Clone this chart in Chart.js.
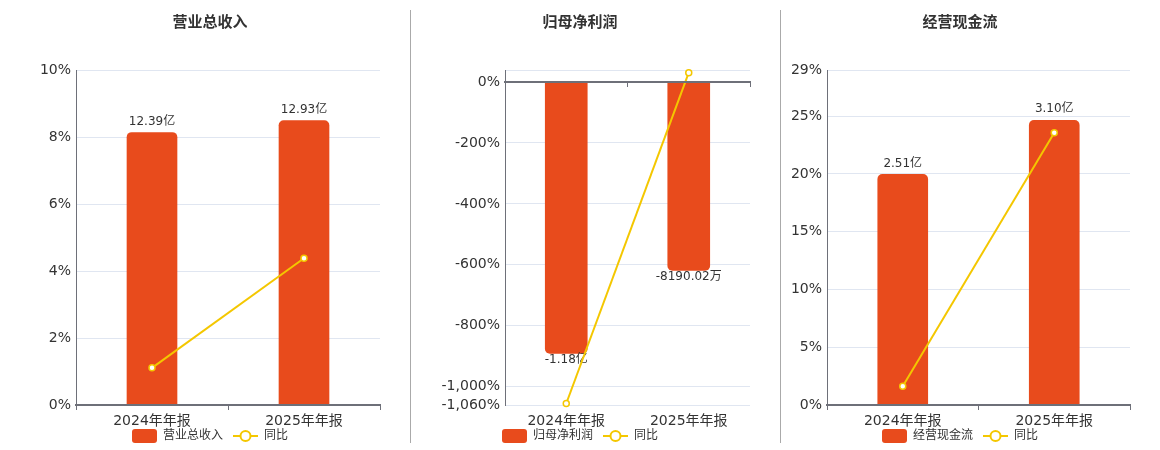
<!DOCTYPE html>
<html>
<head>
<meta charset="utf-8">
<script src="https://cdn.jsdelivr.net/npm/chart.js@4.4.1/dist/chart.umd.min.js"></script>
<style>
  html, body { margin: 0; padding: 0; background: #fff; }
  #wrap { position: relative; width: 1160px; height: 450px; overflow: hidden; }
  .panel { position: absolute; top: 0; height: 450px; }
  .sep { position: absolute; top: 10px; width: 1px; height: 433px; background: #aaa; }
</style>
</head>
<body>
<div id="wrap">
  <div class="sep" style="left:410px"></div>
  <div class="sep" style="left:780px"></div>
  <div class="panel" style="left:40px;width:360px"><canvas id="c1" width="360" height="450"></canvas></div>
  <div class="panel" style="left:410px;width:350px"><canvas id="c2" width="350" height="450"></canvas></div>
  <div class="panel" style="left:790px;width:360px"><canvas id="c3" width="360" height="450"></canvas></div>
</div>
<script>
const categories = ['2024年年报', '2025年年报'];
const yoyName = '同比';

// 营业总收入 (bars in 亿, line in %)
const revenueValues = [12.39, 12.93];
const revenueLabels = ['12.39亿', '12.93亿'];
const revenueYoY = [1.11, 4.38];
const revenueTicks = [0, 2, 4, 6, 8, 10];

// 归母净利润
const profitValues = [-1.18, -0.819];
const profitLabels = ['-1.18亿', '-8190.02万'];
const profitYoY = [-1055, 30.6];
const profitTicks = [-1060, -1000, -800, -600, -400, -200, 0];

// 经营现金流
const cashValues = [2.51, 3.10];
const cashLabels = ['2.51亿', '3.10亿'];
const cashYoY = [1.62, 23.57];
const cashTicks = [0, 5, 10, 15, 20, 25, 29];

const BAR_COLOR = '#E84B1C';
const LINE_COLOR = '#F4C700';
const AXIS_COLOR = '#6E7079';
const GRID_COLOR = '#E0E6F1';
const FONT = '"DejaVu Sans", "Noto Sans CJK SC", sans-serif';

Chart.defaults.font.family = FONT;
Chart.defaults.color = '#333';

// legend icons
function barIcon() {
  const c = document.createElement('canvas');
  c.width = 25; c.height = 14;
  const g = c.getContext('2d');
  g.fillStyle = BAR_COLOR;
  g.beginPath();
  g.roundRect(0, 0, 25, 14, 3);
  g.fill();
  return c;
}
function lineIcon() {
  const c = document.createElement('canvas');
  c.width = 25; c.height = 14;
  const g = c.getContext('2d');
  g.strokeStyle = LINE_COLOR;
  g.lineWidth = 2;
  g.beginPath(); g.moveTo(0, 7); g.lineTo(25, 7); g.stroke();
  g.beginPath(); g.arc(12.5, 7, 5, 0, Math.PI * 2);
  g.fillStyle = '#fff'; g.fill(); g.stroke();
  return c;
}

const barLabelPlugin = {
  id: 'barLabels',
  afterDatasetDraw(chart, args, opts) {
    if (args.index !== 0) return;
    const ctx = chart.ctx;
    ctx.save();
    ctx.font = '12px ' + FONT;
    ctx.fillStyle = '#333';
    ctx.textAlign = 'center';
    ctx.textBaseline = 'middle';
    args.meta.data.forEach((bar, i) => {
      const neg = bar.y > bar.base;
      ctx.fillText(opts.labels[i], bar.x, neg ? bar.y + 6 : bar.y - 11);
    });
    ctx.restore();
  }
};

function fmtPct(v) {
  return v.toLocaleString('en-US') + '%';
}

function makeChart(id, p) {
  const ticks = p.ticks.slice();
  const scales = {
    x: {
      type: 'category',
      position: 'bottom',
      offset: true,
      grid: { offset: true, drawOnChartArea: false, drawTicks: true, tickLength: 5,
              color: p.zeroTop ? 'transparent' : AXIS_COLOR },
      border: { display: !p.zeroTop, color: AXIS_COLOR, width: 2, z: 1 },
      // mirrored so the labels are not clipped to the (short) axis box;
      // negative padding pushes them back below the axis
      ticks: { mirror: true, padding: -25, font: { size: 14 }, color: '#333', maxRotation: 0 },
      afterFit(s) { s.height = 15; }
    },
    y: {
      position: 'left',
      min: p.pctMin,
      max: p.pctMax,
      grid: { color: GRID_COLOR, drawTicks: false },
      border: { display: true, color: AXIS_COLOR, width: 1, z: 1 },
      ticks: {
        padding: 5,
        autoSkip: false,
        font: { size: 14 },
        color: '#333',
        callback: v => (ticks.includes(v) ? fmtPct(v) : '')
      },
      afterBuildTicks(s) {
        const vals = ticks.slice();
        if (!vals.includes(p.pctMax)) vals.push(p.pctMax);
        vals.sort((a, b) => a - b);
        s.ticks = vals.map(v => ({ value: v }));
      },
      afterFit(s) { s.width = p.axisWidth; }
    },
    yb: {
      display: false,
      min: p.barMin,
      max: p.barMax
    }
  };
  if (p.zeroTop) {
    scales.x0 = {
      type: 'category',
      position: { y: 0 },
      offset: true,
      grid: { offset: true, drawOnChartArea: false, drawTicks: true, tickLength: 4, color: AXIS_COLOR },
      border: { display: true, color: AXIS_COLOR, width: 2, z: 1 },
      ticks: { display: false }
    };
  }

  new Chart(document.getElementById(id), {
    type: 'bar',
    data: {
      labels: categories,
      datasets: [
        {
          type: 'bar',
          label: p.title,
          data: p.values,
          yAxisID: 'yb',
          backgroundColor: BAR_COLOR,
          borderRadius: 5,
          borderSkipped: 'start',
          barThickness: p.barWidth,
          order: 2
        },
        {
          type: 'line',
          label: yoyName,
          data: p.yoy,
          yAxisID: 'y',
          borderColor: LINE_COLOR,
          borderWidth: 2,
          pointRadius: 3,
          pointBorderWidth: 1.5,
          pointBackgroundColor: '#fff',
          pointBorderColor: LINE_COLOR,
          tension: 0,
          clip: false,
          order: 1
        }
      ]
    },
    options: {
      responsive: false,
      animation: false,
      layout: { padding: { left: 0, right: p.padRight, top: 0, bottom: -2 } },
      scales: scales,
      plugins: {
        tooltip: { enabled: false },
        title: {
          display: true,
          text: p.title,
          color: '#333',
          font: { size: 15, weight: 'bold' },
          padding: { top: 14, bottom: 38 }
        },
        legend: {
          position: 'bottom',
          labels: {
            usePointStyle: true,
            pointStyleWidth: 25,
            padding: 10,
            font: { size: 12 },
            color: '#333',
            generateLabels: () => [
              { text: p.title, pointStyle: barIcon(), fillStyle: BAR_COLOR, strokeStyle: BAR_COLOR,
                lineWidth: 0, hidden: false, datasetIndex: 0, fontColor: '#333' },
              { text: yoyName, pointStyle: lineIcon(), fillStyle: '#fff', strokeStyle: LINE_COLOR,
                lineWidth: 0, hidden: false, datasetIndex: 1, fontColor: '#333' }
            ]
          }
        },
        barLabels: { labels: p.labels }
      }
    },
    plugins: [barLabelPlugin]
  });
}

makeChart('c1', {
  title: '营业总收入', values: revenueValues, labels: revenueLabels, yoy: revenueYoY,
  ticks: revenueTicks, pctMin: 0, pctMax: 10, barMin: 0, barMax: 15.23,
  axisWidth: 36, padRight: 20, barWidth: 50, zeroTop: false
});
makeChart('c2', {
  title: '归母净利润', values: profitValues, labels: profitLabels, yoy: profitYoY,
  ticks: profitTicks, pctMin: -1060, pctMax: 39.4, barMin: -1.404, barMax: 0.052,
  axisWidth: 95, padRight: 10, barWidth: 42, zeroTop: true
});
makeChart('c3', {
  title: '经营现金流', values: cashValues, labels: cashLabels, yoy: cashYoY,
  ticks: cashTicks, pctMin: 0, pctMax: 29, barMin: 0, barMax: 3.647,
  axisWidth: 37, padRight: 20, barWidth: 50, zeroTop: false
});
</script>
</body>
</html>
